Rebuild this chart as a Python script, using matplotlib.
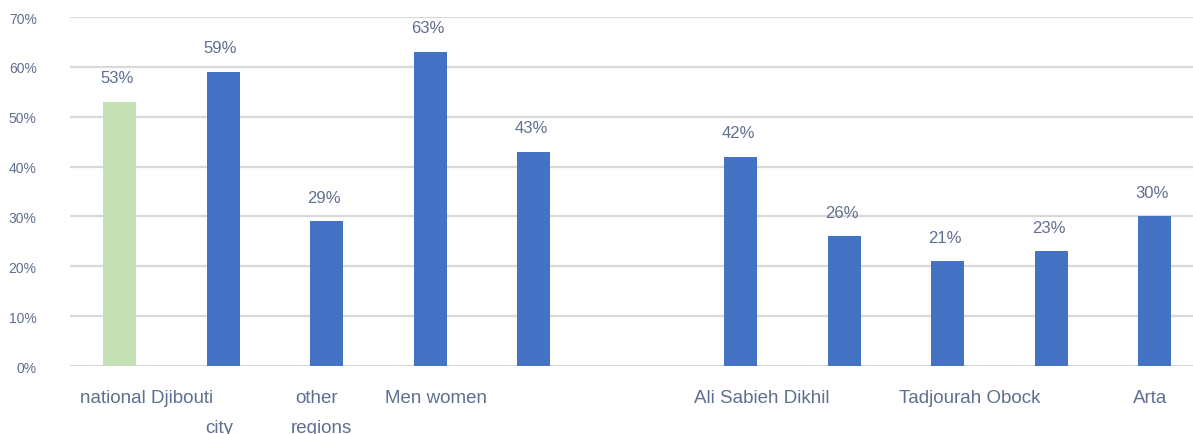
import matplotlib.pyplot as plt
import numpy as np

plt.rcParams['font.family'] = ['Liberation Sans', 'DejaVu Sans']

# share of respondents per group (slot 5 is an empty gap)
slots = [0, 1, 2, 3, 4, 6, 7, 8, 9, 10]
values = [53, 59, 29, 63, 43, 42, 26, 21, 23, 30]
colors = ['#C5E0B4'] + ['#4472C4'] * 9

# axis text under the bars, one entry per text piece
cat_texts = ['national Djibouti', 'city', 'other', 'regions', 'Men women',
             'Ali Sabieh Dikhil', 'Tadjourah Obock', 'Arta']
cat_x = [0.26, 0.96, 1.90, 1.95, 3.06, 6.20, 8.21, 9.96]
cat_row = [0, 1, 0, 1, 0, 0, 0, 0]

yticks = np.arange(0, 71, 10)
txt_color = '#5F6F8F'

fig = plt.figure(figsize=(11.93, 4.35), dpi=100)
ax = fig.add_axes([0.0587, 0.1563, 0.9413, 0.8023])

bars = ax.bar(slots, values, width=0.32, color=colors, zorder=3)
for b, v in zip(bars, values):
    ax.annotate(f'{v}%', (b.get_x() + b.get_width() / 2, v),
                xytext=(-2, 12), textcoords='offset points',
                ha='center', va='bottom', fontsize=12, color=txt_color)

ax.set_xlim(-0.48, 10.37)
ax.set_ylim(0, 70)
ax.set_yticks(yticks)
ax.set_yticklabels([f'{t}%' for t in yticks], fontsize=10, color=txt_color)
ax.tick_params(axis='y', length=0, pad=24)
ax.set_xticks([])
ax.grid(axis='y', color='#D9D9D9', linewidth=1.6, zorder=0)
for s in ax.spines.values():
    s.set_visible(False)

trans = ax.get_xaxis_transform()
for t, x, r in zip(cat_texts, cat_x, cat_row):
    ax.text(x, -0.09 - r * 0.087, t, transform=trans, ha='center', va='center',
            fontsize=13.5, color=txt_color, clip_on=False)

fig.savefig('out.png', dpi=100)
